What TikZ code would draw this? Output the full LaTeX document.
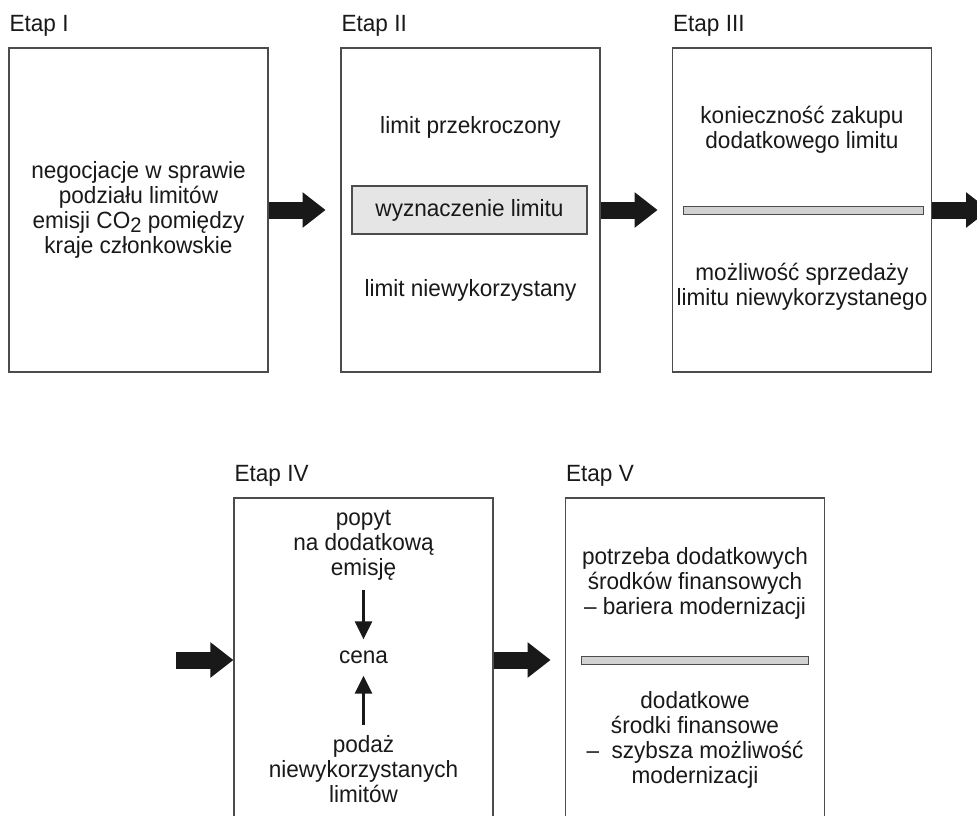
\documentclass[tikz,border=0pt]{standalone}
\usepackage{fontspec}
\setmainfont{Liberation Sans}[FakeStretch=0.96]
\usetikzlibrary{arrows.meta,calc}
\begin{document}
\begin{tikzpicture}[x=1pt,y=-1pt,
  stagebox/.style={draw=black!70,line width=1.2pt,minimum width=259pt,minimum height=324pt,inner sep=0pt},
  txt/.style={align=center,font=\fontsize{23.5}{25}\selectfont,text=black!90,inner sep=0pt},
  lbl/.style={font=\fontsize{23.5}{25}\selectfont,text=black!90,anchor=base west,inner sep=0pt},
  keybox/.style={draw=black!70,fill=black!10,line width=1.2pt,minimum width=235pt,minimum height=48pt,inner sep=0pt,font=\fontsize{23.5}{25}\selectfont,text=black!90},
  bar/.style={draw=black!70,fill=black!18,line width=1pt,minimum width=#1,minimum height=8pt,inner sep=0pt},
  fat/.style={draw=black!90,line width=17pt,-{Triangle[width=34pt,length=23pt]}},
  thinarrow/.style={draw=black!90,line width=2.6pt,-{Triangle[width=17pt,length=18pt]}},
]
\fill[white] (0,0) rectangle (977,816);
\useasboundingbox (0,0) rectangle (977,816);
\clip (0,0) rectangle (977,816);

% stage frames
\node[stagebox] (b1) at (138.5,210) {};
\node[stagebox] (b2) at (470.5,210) {};
\node[stagebox] (b3) at (802,210) {};
\node[stagebox] (b4) at (363.5,660) {};
\node[stagebox] (b5) at (695,660) {};

% stage titles
\node[lbl] (l1) at ($(b1.north west)+(1,-16)$) {Etap I};
\node[lbl] (l2) at ($(b2.north west)+(1,-16)$) {Etap II};
\node[lbl] (l3) at ($(b3.north west)+(1,-16)$) {Etap III};
\node[lbl] (l4) at ($(b4.north west)+(1,-16)$) {Etap IV};
\node[lbl] (l5) at ($(b5.north west)+(1,-16)$) {Etap V};

% stage I
\node[txt] (t1) at (b1.center) {negocjacje w sprawie\\podziału limitów\\emisji CO\raisebox{-4pt}{\fontsize{21}{21}\selectfont 2} pomiędzy\\kraje członkowskie};

% stage II
\node[txt] (t2a) at ($(b2.center)+(0,-83)$) {limit przekroczony};
\node[keybox] (k2) at ($(b2.center)+(-1,0)$) {wyznaczenie limitu};
\node[txt] (t2b) at ($(b2.center)+(0,80)$) {limit niewykorzystany};

% stage III
\node[txt] (t3a) at ($(b3.center)+(0,-80)$) {konieczność zakupu\\dodatkowego limitu};
\node[bar=240pt] (s3) at ($(b3.center)+(1,0)$) {};
\node[txt] (t3b) at ($(b3.center)+(0,77)$) {możliwość sprzedaży\\limitu niewykorzystanego};

% stage IV
\node[txt] (popyt) at ($(b4.center)+(0,-115)$) {popyt\\na dodatkową\\emisję};
\node[txt] (cena) at ($(b4.center)+(0,-3)$) {cena};
\node[txt] (podaz) at ($(b4.center)+(0,109)$) {podaż\\niewykorzystanych\\limitów};
\draw[thinarrow,shorten <=10pt,shorten >=11pt] (popyt.south) -- (cena.north);
\draw[thinarrow,shorten <=10pt,shorten >=12pt] (podaz.north) -- (cena.south);

% stage V
\node[txt] (t5a) at ($(b5.center)+(0,-77)$) {potrzeba dodatkowych\\środków finansowych\\– bariera modernizacji};
\node[bar=227pt] (s5) at ($(b5.center)+(-0.5,0)$) {};
\node[txt] (t5b) at ($(b5.center)+(0,80)$) {dodatkowe\\środki finansowe\\–\ \ szybsza możliwość\\modernizacji};

% transitions between stages
\draw[fat] (b1.east) -- ++(57,0);
\draw[fat] (b2.east) -- ++(57,0);
\draw[fat] (b3.east) -- ++(57,0);
\draw[fat] ($(b4.west)+(-57,0)$) -- (b4.west);
\draw[fat] (b4.east) -- ++(57,0);
\end{tikzpicture}
\end{document}
